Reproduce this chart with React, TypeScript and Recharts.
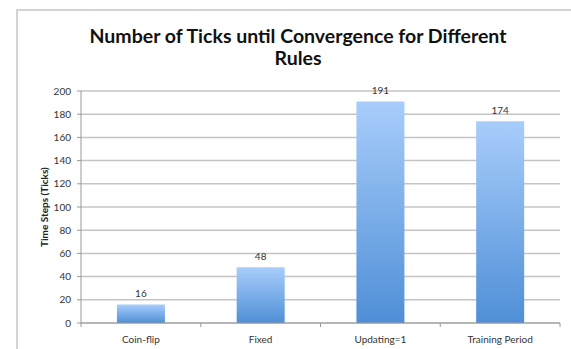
import { Bar, BarChart, CartesianGrid, LabelList, XAxis, YAxis } from "recharts";

const RULES = ["Coin-flip", "Fixed", "Updating=1", "Training Period"];
const TICKS_TO_CONVERGE = [16, 48, 191, 174];
const Y_TICKS = [0, 20, 40, 60, 80, 100, 120, 140, 160, 180, 200];

const FONT = "Lato, 'Open Sans', sans-serif";

const data = RULES.map((rule, i) => ({ rule, ticks: TICKS_TO_CONVERGE[i] }));

function YTitle(props: any) {
  const { viewBox } = props;
  const x = viewBox.x + 3;
  const y = viewBox.y + viewBox.height / 2;
  return (
    <text
      x={x}
      y={y}
      transform={`rotate(-90, ${x}, ${y})`}
      textAnchor="middle"
      dominantBaseline="central"
      fontSize={10}
      fontWeight="bold"
      fontFamily={FONT}
      fill="#222"
    >
      Time Steps (Ticks)
    </text>
  );
}

// category label plus the little tick marks between categories, excel style
function CategoryTick(props: any) {
  const { x, y, payload, index } = props;
  const half = payload?.offset ?? 0;
  const axisY = y - 13;
  return (
    <g>
      {half > 0 && <line x1={x - half} x2={x - half} y1={axisY} y2={axisY + 4} stroke="#999" />}
      {half > 0 && index === RULES.length - 1 && (
        <line x1={x + half} x2={x + half} y1={axisY} y2={axisY + 4} stroke="#999" />
      )}
      <text x={x} y={y} dy="0.71em" textAnchor="middle" fontSize={10} fill="#333" fontFamily={FONT}>
        {payload.value}
      </text>
    </g>
  );
}

export default function App() {
  return (
    <div style={{ position: "fixed", left: 0, top: 0, width: 571, height: 349, overflow: "hidden", background: "#fff", fontFamily: FONT }}>
      <div style={{ position: "absolute", left: 16, top: 9, width: 600, height: 400, border: "2px solid #d4d4d4", boxSizing: "border-box" }} />
      <div
        style={{
          position: "absolute",
          left: 16,
          top: 25,
          width: 564,
          textAlign: "center",
          fontSize: 19.5,
          fontWeight: "bold",
          lineHeight: "22px",
          color: "#111",
        }}
      >
        Number of Ticks until Convergence for Different
        <br />
        Rules
      </div>
      <BarChart
        width={571}
        height={349}
        data={data}
        margin={{ top: 91, right: 11, bottom: 6, left: 41 }}
        barCategoryGap="30%"
        style={{ position: "absolute", left: 0, top: 0 }}
      >
        <defs>
          <linearGradient id="barFill" x1="0" y1="0" x2="0" y2="1">
            <stop offset="0%" stopColor="#a8cdfb" />
            <stop offset="100%" stopColor="#4f8fd7" />
          </linearGradient>
        </defs>
        <CartesianGrid vertical={false} stroke="#c4c4c4" strokeWidth={1.5} />
        <XAxis
          dataKey="rule"
          height={20}
          tickLine={false}
          tickMargin={7}
          axisLine={{ stroke: "#999" }}
          tick={<CategoryTick />}
          interval={0}
        />
        <YAxis
          width={40}
          domain={[0, 200]}
          ticks={Y_TICKS}
          tickSize={4}
          tickMargin={6}
          interval={0}
          axisLine={{ stroke: "#999" }}
          tickLine={{ stroke: "#999" }}
          tick={{ fontSize: 10, fill: "#333", fontFamily: FONT }}
          label={<YTitle />}
        />
        <Bar dataKey="ticks" fill="url(#barFill)" isAnimationActive={false}>
          <LabelList dataKey="ticks" position="top" offset={7} fontSize={10} fill="#333" fontFamily={FONT} />
        </Bar>
      </BarChart>
    </div>
  );
}
